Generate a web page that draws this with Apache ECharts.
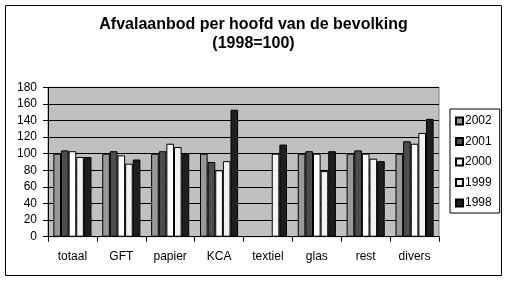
<!DOCTYPE html>
<html><head><meta charset="utf-8">
<script src="https://cdn.jsdelivr.net/npm/echarts@6/dist/echarts.min.js"></script>
<style>html,body{margin:0;padding:0;background:#fff}#c{width:507px;height:282px}</style>
</head><body><div id="c"></div>
<script>
const categories = ['totaal','GFT','papier','KCA','textiel','glas','rest','divers'];
const seriesNames = ['2002','2001','2000','1999','1998'];
const v2002 = [100,100,100,100,'-',100,100,100];
const v2001 = [104,103,103,90,'-',103,104,115];
const v2000 = [103,98,112,80,'-',100,100,112];
const v1999 = [96,88,108,91,100,79,94,125];
const v1998 = [96,93,100,153,111,103,91,142];
const yTicks = [0,20,40,60,80,100,120,140,160,180];
const titleLine1 = 'Afvalaanbod per hoofd van de bevolking';
const titleLine2 = '(1998=100)';
const colors = ['#999999','#4d4d4d','#ffffff','#f2f2f2','#1f1f1f'];
const values = [v2002,v2001,v2000,v1999,v1998];
const FONT = 'Liberation Sans, Arial, sans-serif';

const chart = echarts.init(document.getElementById('c'), null, {renderer:'canvas'});
const titleStyle = {fontFamily:FONT,fontSize:16,fontWeight:'bold',color:'#000',lineHeight:18};
chart.setOption({
  animation:false,
  backgroundColor:'#ffffff',
  title:[
    {text:titleLine1,left:'center',top:16,padding:0,textStyle:titleStyle},
    {text:titleLine2,left:'center',top:35,padding:0,textStyle:titleStyle}
  ],
  legend:{
    orient:'vertical', left:450, top:109,
    data:seriesNames,
    itemWidth:7, itemHeight:7, itemGap:6.5,
    padding:[5,8,3,5],
    backgroundColor:'#ffffff', borderColor:'#000', borderWidth:1,
    textStyle:{fontFamily:FONT,fontSize:12,color:'#000',lineHeight:14,padding:[0,0,0,-3]},
    icon:'rect'
  },
  grid:{left:48,right:68,top:87.3,bottom:45.3,show:true,backgroundColor:'#c0c0c0',borderColor:'#808080',borderWidth:1},
  xAxis:{
    type:'category', data:categories,
    axisLine:{lineStyle:{color:'#000',width:1}},
    axisTick:{show:true,length:5,lineStyle:{color:'#000'}},
    axisLabel:{fontFamily:FONT,fontSize:12,color:'#000',margin:14}
  },
  yAxis:{
    type:'value', min:yTicks[0], max:yTicks[yTicks.length-1], interval:yTicks[1]-yTicks[0],
    axisLine:{show:true,lineStyle:{color:'#000',width:1}},
    axisTick:{show:true,length:5,lineStyle:{color:'#000'}},
    axisLabel:{fontFamily:FONT,fontSize:12,color:'#000',margin:11},
    splitLine:{show:true,lineStyle:{color:'#000',width:1}}
  },
  series: seriesNames.map((n,i)=>({
    name:n, type:'bar', data:values[i],
    barGap:'0%', barCategoryGap:'22%',
    itemStyle:{color:colors[i],borderColor:'#000',borderWidth:1}
  })),
  graphic:[{type:'rect',shape:{x:5.5,y:5.5,width:496,height:270},style:{fill:'none',stroke:'#000',lineWidth:1},silent:true,z:100}]
});
</script></body></html>
